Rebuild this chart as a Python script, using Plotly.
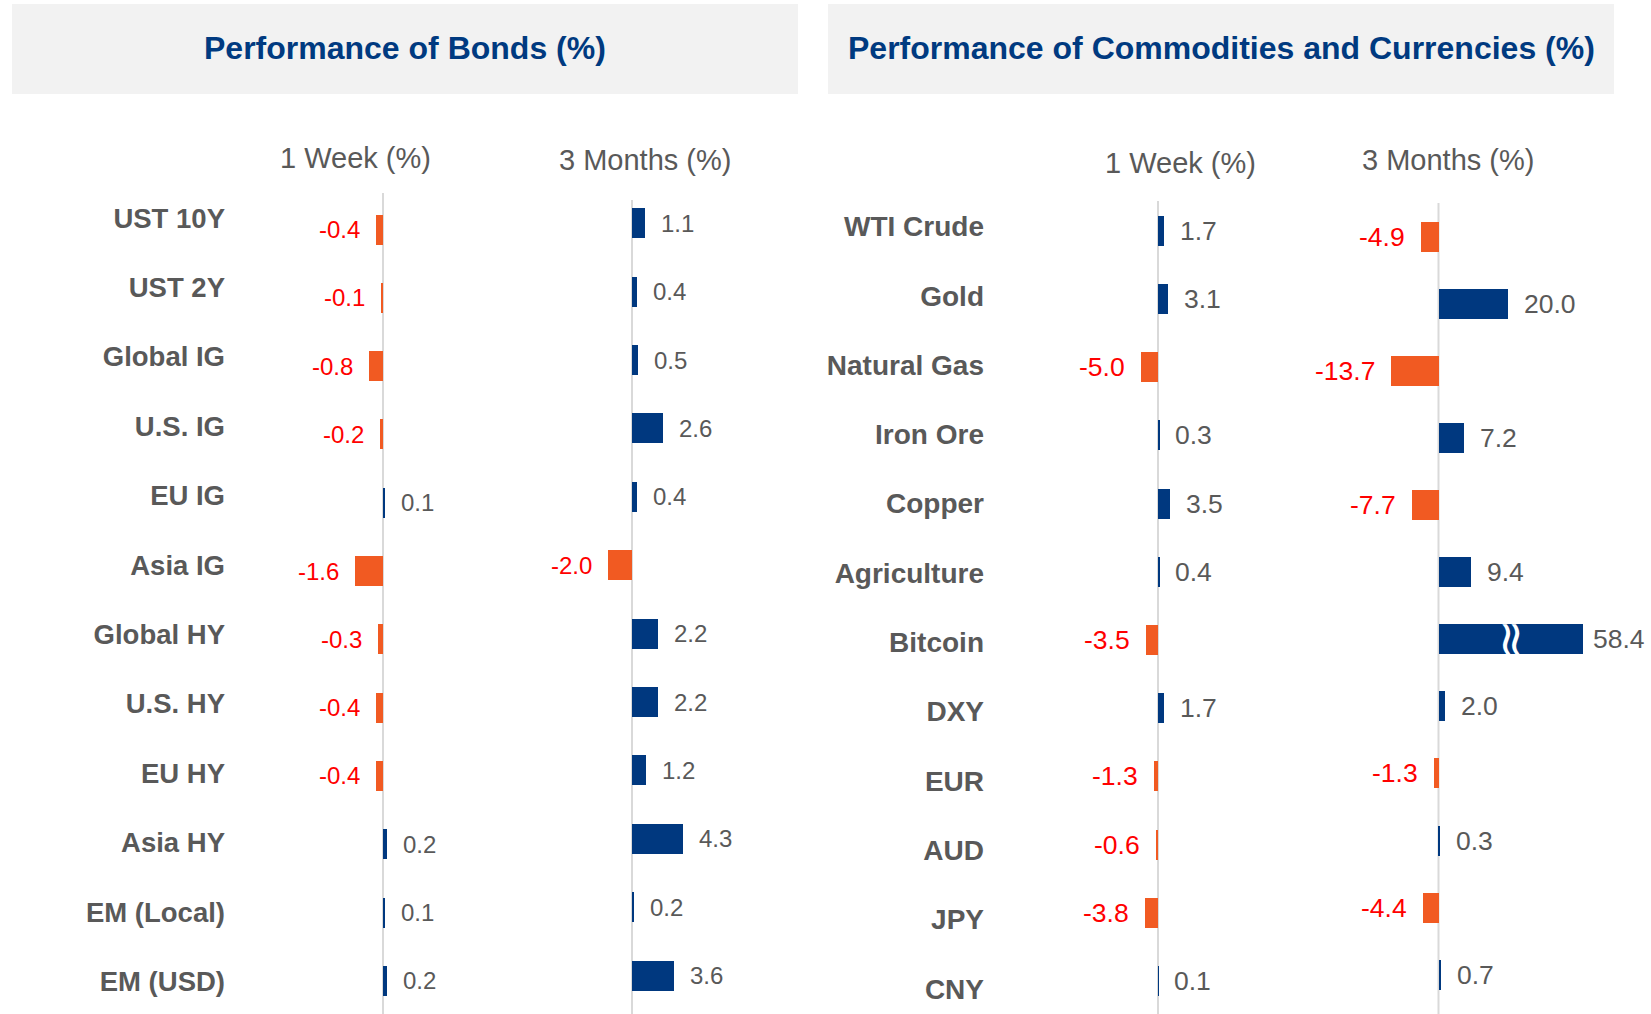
import plotly.graph_objects as go

W, H = 1651, 1014

# ---------------- data ----------------
bond_cats = ["UST 10Y", "UST 2Y", "Global IG", "U.S. IG", "EU IG", "Asia IG",
             "Global HY", "U.S. HY", "EU HY", "Asia HY", "EM (Local)", "EM (USD)"]
bond_1w = [-0.4, -0.1, -0.8, -0.2, 0.1, -1.6, -0.3, -0.4, -0.4, 0.2, 0.1, 0.2]
bond_3m = [1.1, 0.4, 0.5, 2.6, 0.4, -2.0, 2.2, 2.2, 1.2, 4.3, 0.2, 3.6]

cc_cats = ["WTI Crude", "Gold", "Natural Gas", "Iron Ore", "Copper", "Agriculture",
           "Bitcoin", "DXY", "EUR", "AUD", "JPY", "CNY"]
cc_1w = [1.7, 3.1, -5.0, 0.3, 3.5, 0.4, -3.5, 1.7, -1.3, -0.6, -3.8, 0.1]
cc_3m = [-4.9, 20.0, -13.7, 7.2, -7.7, 9.4, 58.4, 2.0, -1.3, 0.3, -4.4, 0.7]

panel_titles = ["Performance of Bonds (%)", "Performance of Commodities and Currencies (%)"]
col_titles = ["1 Week (%)", "3 Months (%)"]

# ---------------- style ----------------
NAVY = "#00387F"
ORANGE = "#F15A22"
RED = "#FF0000"
GREY = "#595959"
TITLE = "#003A80"
FONT = "Liberation Sans, Arial, sans-serif"
BAR_PX = 30

# pixel geometry of each bar subplot
subplots = [
    dict(cats=bond_cats, vals=bond_1w, zero=383, ppu=17.5, x0=280, x1=560, top=193, c0=229.5, step=68.3,
         title=col_titles[0], tx=355, ty=158, lsize=24),
    dict(cats=bond_cats, vals=bond_3m, zero=632, ppu=11.8, x0=560, x1=780, top=200, c0=223.2, step=68.4,
         title=col_titles[1], tx=645, ty=160, lsize=24),
    dict(cats=cc_cats, vals=cc_1w, zero=1158, ppu=3.35, x0=1000, x1=1300, top=201, c0=230.7, step=68.2,
         title=col_titles[0], tx=1180, ty=163, lsize=26.5),
    dict(cats=cc_cats, vals=cc_3m, zero=1438.5, ppu=3.48, x0=1300, x1=1583, top=203, c0=236.6, step=67.1,
         title=col_titles[1], tx=1448, ty=160, lsize=26.5, brk="Bitcoin"),
]

fig = go.Figure()
annotations = []
shapes = []
layout_axes = {}

hidden = dict(showgrid=False, zeroline=False, showticklabels=False, showline=False, ticks="")

for i, sp in enumerate(subplots, start=1):
    xa = "x" if i == 1 else f"x{i}"
    ya = "y" if i == 1 else f"y{i}"
    xmin = (sp["x0"] - sp["zero"]) / sp["ppu"]
    xmax = (sp["x1"] - sp["zero"]) / sp["ppu"]
    ybot = (H - sp["c0"]) / sp["step"]
    ytop = (sp["top"] - sp["c0"]) / sp["step"]
    colors = [NAVY if v >= 0 else ORANGE for v in sp["vals"]]
    fig.add_trace(go.Bar(
        x=sp["vals"], y=sp["cats"], orientation="h", marker=dict(color=colors, line=dict(width=0)),
        width=BAR_PX / sp["step"], xaxis=xa, yaxis=ya, showlegend=False, hoverinfo="x+y",
    ))
    layout_axes["xaxis" if i == 1 else f"xaxis{i}"] = dict(
        domain=[sp["x0"] / W, sp["x1"] / W], range=[xmin, xmax], anchor=ya, fixedrange=True, **hidden)
    layout_axes["yaxis" if i == 1 else f"yaxis{i}"] = dict(
        domain=[0, 1 - sp["top"] / H], range=[ybot, ytop], anchor=xa, type="category",
        categoryorder="array", categoryarray=sp["cats"], fixedrange=True, **hidden)
    # zero line
    shapes.append(dict(type="line", xref=xa, yref=f"{ya} domain", x0=0, x1=0, y0=0, y1=1,
                       line=dict(color="#D9D9D9", width=2), layer="below"))
    # value labels (a bar running past the axis end is cut, label sits at the cut)
    for c, v in zip(sp["cats"], sp["vals"]):
        clipped = v > xmax
        xv = min(v, xmax * 0.999)
        annotations.append(dict(
            x=xv, y=c, xref=xa, yref=ya, text=f"{v:.1f}", showarrow=False,
            xanchor="left" if v >= 0 else "right",
            xshift=(8 if clipped else 14) if v >= 0 else -14,
            font=dict(family=FONT, size=sp["lsize"], color=GREY if v >= 0 else RED)))
    # axis break marker on clipped bar
    if sp.get("brk"):
        annotations.append(dict(
            x=xmax * 0.515, y=sp["brk"], xref=xa, yref=ya, text="≈", textangle=90, showarrow=False,
            font=dict(family="DejaVu Sans", size=48, color="white")))
    # column title
    annotations.append(dict(
        x=sp["tx"] / W, y=1 - sp["ty"] / H, xref="paper", yref="paper", text=sp["title"],
        showarrow=False, xanchor="center", yanchor="middle",
        font=dict(family=FONT, size=29, color=GREY)))

# category label axes
label_axes = [
    dict(cats=bond_cats, right=224, L0=218, sL=69.4, size=27.5),
    dict(cats=cc_cats, right=983, L0=226.4, sL=69.3, size=28),
]
for j, la in enumerate(label_axes, start=5):
    xa, ya = f"x{j}", f"y{j}"
    n = len(la["cats"])
    fig.add_trace(go.Scatter(x=[0] * n, y=list(range(n)), mode="markers", marker=dict(opacity=0),
                             xaxis=xa, yaxis=ya, showlegend=False, hoverinfo="skip"))
    layout_axes[f"xaxis{j}"] = dict(domain=[(la["right"] + 2) / W, (la["right"] + 12) / W], range=[-1, 1],
                                    anchor=ya, fixedrange=True, **hidden)
    layout_axes[f"yaxis{j}"] = dict(
        domain=[0, 1], range=[(H - la["L0"]) / la["sL"], (0 - la["L0"]) / la["sL"]], anchor=xa,
        tickmode="array", tickvals=list(range(n)), ticktext=la["cats"], showticklabels=True,
        ticks="", showgrid=False, zeroline=False, showline=False, fixedrange=True,
        tickfont=dict(family=FONT, size=la["size"], color=GREY, weight="bold"))

# panel headers
headers = [(12, 798), (828, 1614)]
for (a, b), t in zip(headers, panel_titles):
    shapes.append(dict(type="rect", xref="paper", yref="paper", x0=a / W, x1=b / W,
                       y0=1 - 94 / H, y1=1 - 4 / H, fillcolor="#F2F2F2", line=dict(width=0), layer="below"))
    annotations.append(dict(x=(a + b) / 2 / W, y=1 - 48 / H, xref="paper", yref="paper", text=t,
                            showarrow=False, xanchor="center", yanchor="middle",
                            font=dict(family=FONT, size=32, color=TITLE, weight="bold")))

fig.update_layout(
    width=W, height=H, margin=dict(l=0, r=0, t=0, b=0),
    paper_bgcolor="white", plot_bgcolor="rgba(0,0,0,0)",
    bargap=0, showlegend=False,
    annotations=annotations, shapes=shapes,
    **layout_axes,
)

fig.write_html("out.html", config={"displayModeBar": False},
               post_script="document.body.style.margin='0';")
